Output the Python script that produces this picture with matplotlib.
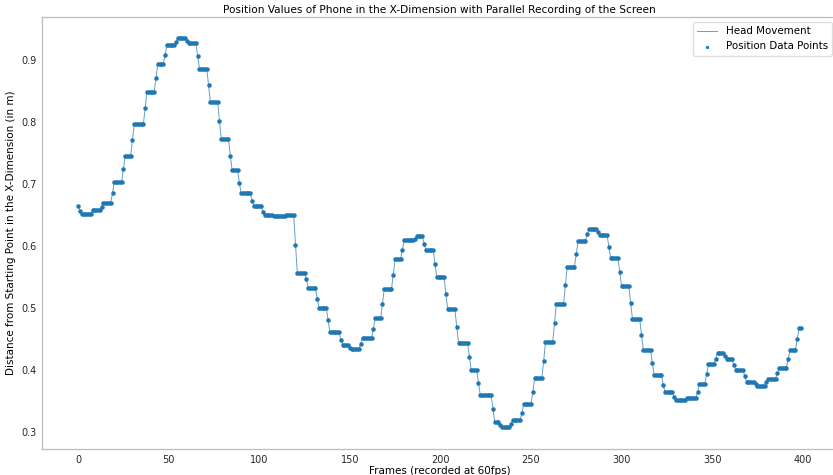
import matplotlib
matplotlib.use("Agg")
import matplotlib.pyplot as plt
import numpy as np

# Phone x-position per frame, stored as (level, number of frames held)
levels = [0.665, 0.657, 0.652, 0.658, 0.663, 0.670, 0.686, 0.704, 0.724, 0.746,
          0.771, 0.797, 0.822, 0.849, 0.871, 0.894, 0.908, 0.924, 0.929, 0.935,
          0.931, 0.927, 0.907, 0.886, 0.859, 0.833, 0.802, 0.773, 0.746, 0.723,
          0.702, 0.685, 0.673, 0.665, 0.655, 0.650, 0.6485, 0.650, 0.602, 0.557,
          0.546, 0.533, 0.515, 0.500, 0.480, 0.461, 0.449, 0.441, 0.436, 0.434,
          0.442, 0.452, 0.466, 0.484, 0.506, 0.531, 0.554, 0.579, 0.594, 0.609,
          0.612, 0.6155, 0.604, 0.593, 0.571, 0.550, 0.523, 0.498, 0.470, 0.444,
          0.421, 0.400, 0.3795, 0.360, 0.337, 0.316, 0.311, 0.3075, 0.313, 0.319,
          0.331, 0.345, 0.3645, 0.3865, 0.4145, 0.4445, 0.475, 0.507, 0.5365, 0.566,
          0.587, 0.6075, 0.619, 0.628, 0.623, 0.618, 0.599, 0.5806, 0.558, 0.536,
          0.5085, 0.483, 0.457, 0.433, 0.411, 0.392, 0.376, 0.365, 0.3565, 0.351,
          0.354, 0.365, 0.378, 0.393, 0.409, 0.418, 0.4275, 0.423, 0.418, 0.4085,
          0.4005, 0.390, 0.381, 0.378, 0.374, 0.380, 0.386, 0.3945, 0.4026, 0.417,
          0.432, 0.450, 0.4677]
holds = [1, 1, 6, 5, 1, 5, 1, 5, 1, 4,
         1, 6, 1, 5, 1, 4, 1, 5, 1, 5,
         1, 5, 1, 5, 1, 5, 1, 5, 1, 4,
         1, 6, 1, 5, 1, 5, 7, 5, 1, 5,
         1, 5, 1, 5, 1, 6, 1, 4, 1, 5,
         1, 6, 1, 4, 1, 5, 1, 4, 1, 6,
         1, 4, 1, 5, 1, 5, 1, 5, 1, 6,
         1, 4, 1, 7, 1, 3, 1, 5, 1, 5,
         1, 5, 1, 5, 1, 5, 1, 5, 1, 5,
         1, 5, 1, 5, 1, 5, 1, 5, 1, 5,
         1, 5, 1, 5, 1, 5, 1, 5, 1, 6,
         6, 1, 4, 1, 4, 1, 4, 1, 4, 1,
         5, 1, 5, 1, 5, 1, 5, 1, 5, 1,
         4, 1, 2]

position = np.repeat(levels, holds)
frames = np.arange(len(position))

plt.rcParams.update({
    "font.family": "DejaVu Sans",
    "font.size": 7,
    "axes.edgecolor": "#bcbcbc",
    "axes.linewidth": 0.9,
    "xtick.major.size": 0,
    "ytick.major.size": 0,
    "xtick.major.pad": 4,
    "ytick.major.pad": 4,
    "xtick.color": "#262626",
    "ytick.color": "#262626",
})

fig = plt.figure(figsize=(8.33, 4.75), dpi=100)
ax = fig.add_axes([42 / 833, 26 / 475, 795 / 833, 432 / 475])

ax.plot(frames, position, color="#1f77b4", linewidth=0.7, alpha=0.7,
        label="Head Movement")
ax.scatter(frames, position, s=5, color="#1f77b4", zorder=3,
           label="Position Data Points")

ax.set_xlim(-19.95, 418.95)
ax.set_ylim(0.2725, 0.9695)
ax.set_xticks([0, 50, 100, 150, 200, 250, 300, 350, 400])
ax.set_yticks([0.3, 0.4, 0.5, 0.6, 0.7, 0.8, 0.9])

ax.set_title("Position Values of Phone in the X-Dimension with Parallel Recording of the Screen",
             fontsize=7.6, pad=3)
ax.set_xlabel("Frames (recorded at 60fps)", fontsize=7.5, labelpad=1)
ax.set_ylabel("Distance from Starting Point in the X-Dimension (in m)", fontsize=7.5, labelpad=4)

ax.legend(loc="upper right", fontsize=7.4, frameon=True, edgecolor="#d8d8d8",
          fancybox=True, markerscale=0.6)

fig.savefig("out.png", dpi=100)
